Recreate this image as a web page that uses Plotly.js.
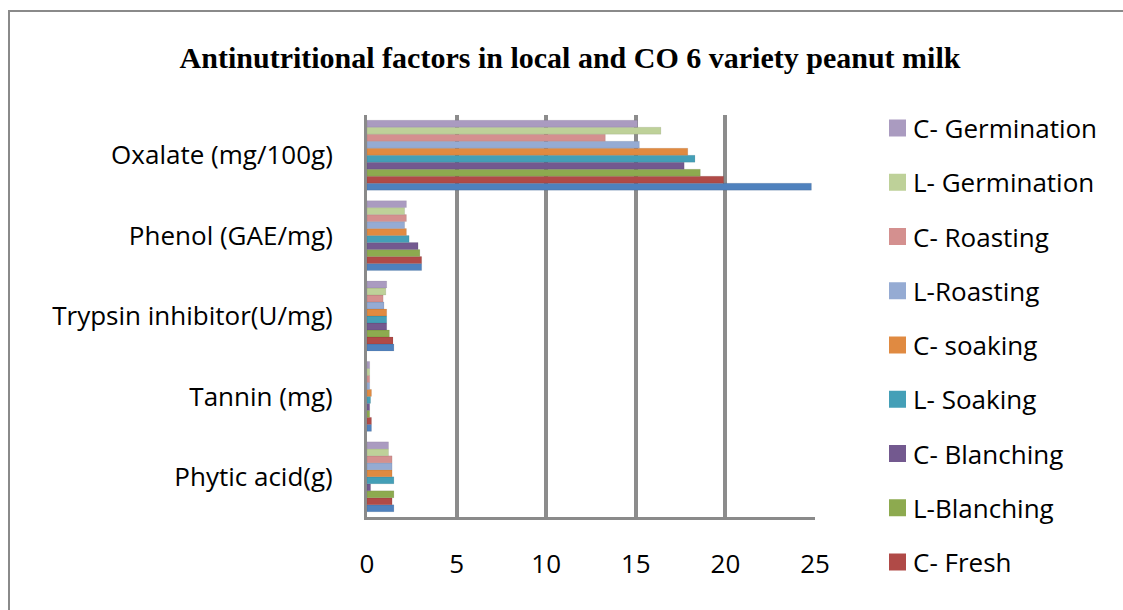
<!DOCTYPE html>
<html>
<head>
<meta charset="utf-8">
<script src="https://cdn.plot.ly/plotly-3.0.1.min.js"></script>
<style>
  html, body { margin: 0; padding: 0; background: #fff; overflow: hidden; width: 1123px; height: 610px; }
  #chart { width: 1123px; height: 610px; position: absolute; left: 0; top: 0; }
  #frame { position: absolute; left: 8px; top: 10px; width: 1113px; height: 598px;
           border-left: 2px solid #8a8a8a; border-top: 2px solid #8a8a8a; pointer-events: none; z-index: 10; }
</style>
</head>
<body>
<div id="chart"></div>
<div id="frame"></div>
<script>
// Categories (bottom to top)
const categories = ["Phytic acid(g)", "Tannin (mg)", "Trypsin inhibitor(U/mg)", "Phenol (GAE/mg)", "Oxalate (mg/100g)"];

// Series values, in the same order as categories
const lFresh        = [1.5, 0.25, 1.5, 3.05, 24.8];
const cFresh        = [1.4, 0.25, 1.45, 3.05, 19.9];
const lBlanching    = [1.5, 0.15, 1.25, 2.95, 18.6];
const cBlanching    = [0.2, 0.15, 1.1, 2.85, 17.7];
const lSoaking      = [1.5, 0.2, 1.1, 2.35, 18.3];
const cSoaking      = [1.4, 0.25, 1.1, 2.2, 17.9];
const lRoasting     = [1.4, 0.15, 0.95, 2.1, 15.2];
const cRoasting     = [1.4, 0.15, 0.9, 2.2, 13.3];
const lGermination  = [1.2, 0.15, 1.05, 2.1, 16.4];
const cGermination  = [1.2, 0.15, 1.1, 2.2, 15.1];

const seriesNames = ["L-Fresh", "C- Fresh", "L-Blanching", "C- Blanching", "L- Soaking", "C- soaking", "L-Roasting", "C- Roasting", "L- Germination", "C- Germination"];
const seriesValues = [lFresh, cFresh, lBlanching, cBlanching, lSoaking, cSoaking, lRoasting, cRoasting, lGermination, cGermination];
const seriesColors = ["#4F81BD", "#B04A47", "#8DAA4F", "#73598F", "#449FB7", "#E08A41", "#95ABD3", "#D4908F", "#BED199", "#AA9BC0"];

const xTicks = [0, 5, 10, 15, 20, 25];

const traces = seriesNames.map((name, i) => ({
  type: "bar",
  orientation: "h",
  name: name,
  y: categories,
  x: seriesValues[i],
  showlegend: false,
  marker: { color: seriesColors[i], line: { color: "rgba(0,0,0,0.15)", width: 0.5 } },
  hoverinfo: "x+name"
}));

const font = "'Open Sans', Lato, sans-serif";

// Plot area in pixels (for placing the legend drawn beside it)
const M = { l: 367, r: 308, t: 115, b: 93 };
const W = 1123, H = 610;
const plotW = W - M.l - M.r, plotH = H - M.t - M.b;
const px2x = px => (px - M.l) / plotW;
const px2y = py => (H - M.b - py) / plotH;

// Legend (top to bottom: C- Germination ... C- Fresh; the L-Fresh entry falls outside the frame)
const legendIdx = [9, 8, 7, 6, 5, 4, 3, 2, 1];
const shapes = [];
const annotations = [];
legendIdx.forEach((si, k) => {
  const cy = 128 + k * 54.25;
  shapes.push({
    type: "rect", xref: "paper", yref: "paper",
    x0: px2x(889), x1: px2x(906), y0: px2y(cy + 8.5), y1: px2y(cy - 8.5),
    fillcolor: seriesColors[si], line: { width: 0 }
  });
  annotations.push({
    xref: "paper", yref: "paper", x: px2x(911), y: px2y(cy),
    xanchor: "left", yanchor: "middle", showarrow: false,
    text: seriesNames[si], font: { family: font, size: 26, color: "#000" }
  });
});

const layout = {
  width: W,
  height: H,
  paper_bgcolor: "#ffffff",
  plot_bgcolor: "#ffffff",
  margin: M,
  barmode: "group",
  bargap: 0.13,
  bargroupgap: 0,
  title: {
    text: "<b>Antinutritional factors in local and CO 6 variety peanut milk</b>",
    font: { family: "'Liberation Serif', 'Times New Roman', serif", size: 30, color: "#000" },
    x: 0.5076, xref: "container", xanchor: "center",
    y: 1 - 57 / 610, yref: "container", yanchor: "middle"
  },
  xaxis: {
    range: [0, 25],
    tickvals: xTicks,
    ticktext: xTicks.map(String),
    showgrid: true,
    gridcolor: "#8c8c8c",
    gridwidth: 4,
    zeroline: false,
    showline: true,
    linecolor: "#8a8a8a",
    linewidth: 3,
    ticks: "outside",
    ticklen: 22,
    tickcolor: "rgba(0,0,0,0)",
    tickfont: { family: font, size: 26, color: "#000" },
    fixedrange: true
  },
  yaxis: {
    categoryorder: "array",
    categoryarray: categories,
    showgrid: false,
    zeroline: false,
    showline: true,
    linecolor: "#8a8a8a",
    linewidth: 3,
    ticks: "outside",
    ticklen: 26,
    tickcolor: "rgba(0,0,0,0)",
    tickfont: { family: font, size: 26, color: "#000" },
    fixedrange: true
  },
  shapes: shapes,
  annotations: annotations,
  showlegend: false
};

Plotly.newPlot("chart", traces, layout, { displayModeBar: false, staticPlot: true });
</script>
</body>
</html>
